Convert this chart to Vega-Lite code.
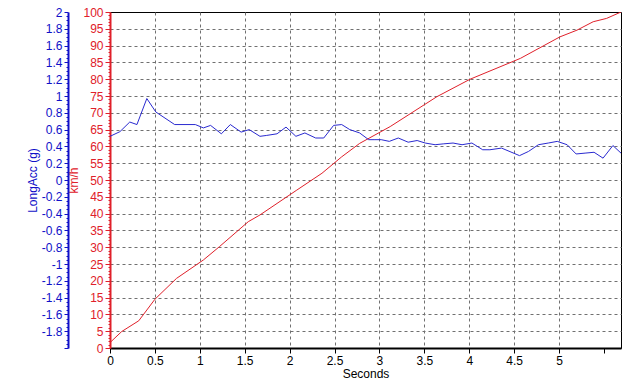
{
  "$schema": "https://vega.github.io/schema/vega-lite/v6.json",
  "width": 511,
  "height": 336,
  "autosize": {"type": "none"},
  "padding": {"left": 110, "top": 12, "right": 19, "bottom": 44},
  "background": "white",
  "config": {
    "view": {"stroke": "#000000", "strokeWidth": 1},
    "font": "Liberation Sans",
    "axis": {"labelFont": "Liberation Sans", "titleFont": "Liberation Sans", "labelFontSize": 12, "titleFontSize": 12, "titleFontWeight": "normal", "labelOverlap": false, "labelFlush": false, "labelBound": false}
  },
  "datasets": {
    "speed": [
      {"t": 0, "kmh": 1.6}, {"t": 0.13, "kmh": 4.9}, {"t": 0.32, "kmh": 8.1}, {"t": 0.5, "kmh": 14.5},
      {"t": 0.74, "kmh": 20.7}, {"t": 1.04, "kmh": 26.2}, {"t": 1.22, "kmh": 30.2}, {"t": 1.54, "kmh": 37.6},
      {"t": 1.67, "kmh": 39.6}, {"t": 2.08, "kmh": 47.0}, {"t": 2.36, "kmh": 52.0}, {"t": 2.58, "kmh": 56.9},
      {"t": 2.78, "kmh": 60.9}, {"t": 3.12, "kmh": 65.9}, {"t": 3.64, "kmh": 74.8}, {"t": 4.01, "kmh": 80.0},
      {"t": 4.57, "kmh": 86.2}, {"t": 5.01, "kmh": 92.6}, {"t": 5.2, "kmh": 94.6}, {"t": 5.38, "kmh": 97.1},
      {"t": 5.53, "kmh": 98.1}, {"t": 5.69, "kmh": 100}
    ],
    "acc": [
      {"t": 0, "g": 0.52}, {"t": 0.11, "g": 0.575}, {"t": 0.22, "g": 0.69}, {"t": 0.3, "g": 0.66},
      {"t": 0.41, "g": 0.97}, {"t": 0.51, "g": 0.81}, {"t": 0.72, "g": 0.66}, {"t": 0.95, "g": 0.66},
      {"t": 1.04, "g": 0.62}, {"t": 1.12, "g": 0.65}, {"t": 1.24, "g": 0.55}, {"t": 1.34, "g": 0.66},
      {"t": 1.46, "g": 0.57}, {"t": 1.55, "g": 0.6}, {"t": 1.67, "g": 0.52}, {"t": 1.74, "g": 0.53},
      {"t": 1.86, "g": 0.55}, {"t": 1.96, "g": 0.63}, {"t": 2.07, "g": 0.52}, {"t": 2.17, "g": 0.56},
      {"t": 2.29, "g": 0.5}, {"t": 2.38, "g": 0.5}, {"t": 2.49, "g": 0.65}, {"t": 2.58, "g": 0.66},
      {"t": 2.67, "g": 0.6}, {"t": 2.78, "g": 0.56}, {"t": 2.88, "g": 0.48}, {"t": 2.95, "g": 0.48},
      {"t": 3.02, "g": 0.48}, {"t": 3.11, "g": 0.46}, {"t": 3.21, "g": 0.5}, {"t": 3.32, "g": 0.45},
      {"t": 3.42, "g": 0.47}, {"t": 3.51, "g": 0.44}, {"t": 3.62, "g": 0.42}, {"t": 3.71, "g": 0.43},
      {"t": 3.82, "g": 0.44}, {"t": 3.92, "g": 0.42}, {"t": 4.03, "g": 0.44}, {"t": 4.15, "g": 0.36},
      {"t": 4.23, "g": 0.36}, {"t": 4.36, "g": 0.38}, {"t": 4.56, "g": 0.29}, {"t": 4.66, "g": 0.34},
      {"t": 4.77, "g": 0.42}, {"t": 4.88, "g": 0.44}, {"t": 4.98, "g": 0.46}, {"t": 5.09, "g": 0.42},
      {"t": 5.19, "g": 0.31}, {"t": 5.29, "g": 0.32}, {"t": 5.39, "g": 0.33}, {"t": 5.49, "g": 0.26},
      {"t": 5.6, "g": 0.41}, {"t": 5.69, "g": 0.32}
    ]
  },
  "layer": [
    {
      "data": {"name": "speed"},
      "mark": {"type": "line", "color": "#e0202a", "strokeWidth": 1, "clip": true},
      "encoding": {
        "x": {
          "field": "t", "type": "quantitative",
          "scale": {"domain": [0, 5.69], "nice": false, "zero": false},
          "axis": {
            "title": "Seconds",
            "values": [0, 0.125, 0.25, 0.375, 0.5, 0.625, 0.75, 0.875, 1, 1.125, 1.25, 1.375, 1.5, 1.625, 1.75, 1.875, 2, 2.125, 2.25, 2.375, 2.5, 2.625, 2.75, 2.875, 3, 3.125, 3.25, 3.375, 3.5, 3.625, 3.75, 3.875, 4, 4.125, 4.25, 4.375, 4.5, 4.625, 4.75, 4.875, 5, 5.125, 5.25, 5.375, 5.5, 5.625],
            "labelExpr": "(abs(datum.value * 2 - round(datum.value * 2)) < 1e-6 && datum.value < 5.2) ? toString(datum.value) : ''",
            "tickSize": {"condition": {"test": "abs(datum.value * 2 - round(datum.value * 2)) < 1e-6", "value": 5}, "value": 3},
            "grid": true,
            "gridDash": [3, 3],
            "gridColor": "#707070",
            "gridWidth": 1,
            "gridOpacity": {"condition": {"test": "abs(datum.value * 2 - round(datum.value * 2)) < 1e-6 && datum.value > 0 && datum.value < 5.2", "value": 1}, "value": 0},
            "domainColor": "#000000",
            "domainWidth": 2,
            "tickColor": "#000000",
            "labelColor": "#000000",
            "titleColor": "#000000",
            "labelPadding": 2,
            "titlePadding": 2
          }
        },
        "y": {
          "field": "kmh", "type": "quantitative",
          "scale": {"domain": [0, 100], "nice": false},
          "axis": {
            "orient": "left",
            "title": "km/h",
            "tickCount": 100,
            "labelExpr": "datum.value % 5 === 0 ? toString(datum.value) : ''",
            "tickSize": {"condition": {"test": "datum.value % 5 === 0", "value": 5}, "value": 2},
            "grid": true,
            "gridDash": [3, 3],
            "gridColor": "#707070",
            "gridWidth": 1,
            "gridOpacity": {"condition": {"test": "datum.value % 5 === 0 && datum.value > 0 && datum.value < 100", "value": 1}, "value": 0},
            "domainColor": "#e0202a",
            "domainWidth": 2,
            "tickColor": "#e0202a",
            "labelColor": "#e0202a",
            "titleColor": "#e0202a",
            "labelPadding": 2,
            "titlePadding": 2
          }
        }
      }
    },
    {
      "data": {"name": "acc"},
      "mark": {"type": "line", "color": "#2a2ad0", "strokeWidth": 1, "clip": true},
      "encoding": {
        "x": {"field": "t", "type": "quantitative"},
        "y": {
          "field": "g", "type": "quantitative",
          "scale": {"domain": [-2, 2], "nice": false, "zero": false},
          "axis": {
            "orient": "left",
            "offset": 42,
            "title": "LongAcc (g)",
            "tickCount": 80,
            "labelExpr": "(abs(datum.value * 5 - round(datum.value * 5)) < 1e-6 && datum.value > -1.9) ? toString(round(datum.value * 10) / 10) : ''",
            "tickSize": {"condition": {"test": "abs(datum.value * 5 - round(datum.value * 5)) < 1e-6", "value": 4}, "value": 2},
            "grid": false,
            "domainColor": "#1010c8",
            "domainWidth": 2,
            "tickColor": "#1010c8",
            "labelColor": "#1010c8",
            "titleColor": "#1010c8",
            "labelPadding": 2,
            "titlePadding": 2
          }
        }
      }
    }
  ],
  "resolve": {"scale": {"y": "independent"}}
}
